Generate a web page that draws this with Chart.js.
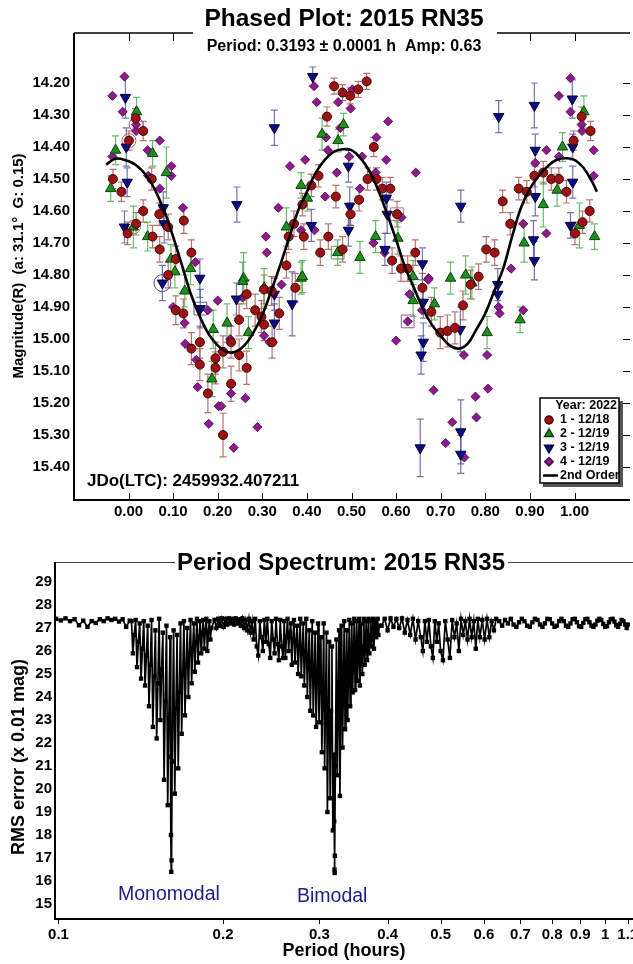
<!DOCTYPE html>
<html>
<head>
<meta charset="utf-8">
<script src="https://cdn.jsdelivr.net/npm/chart.js@4.4.1/dist/chart.umd.min.js"></script>
<style>
  html, body { margin: 0; padding: 0; background: #fff; overflow: hidden; width: 633px; height: 964px; }
  #phase { position: absolute; left: 0; top: 0; }
  #spec { position: absolute; left: 0; top: 530px; }
</style>
</head>
<body>
<canvas id="phase" width="640" height="530"></canvas>
<canvas id="spec" width="660" height="434"></canvas>
<script>
const FONT = "'Liberation Sans', Arial, sans-serif";

// ---- phased plot data ----
const phaseTicks = [0, 0.1, 0.2, 0.3, 0.4, 0.5, 0.6, 0.7, 0.8, 0.9, 1.0];
const magTicks = [14.2, 14.3, 14.4, 14.5, 14.6, 14.7, 14.8, 14.9, 15.0, 15.1, 15.2, 15.3, 15.4];

// 1 - 12/18
const s1Phase = [-0.035,-0.016,0.001,0.016,0.033,-0.002,0.017,0.033,0.052,0.054,0.070,0.089,0.106,0.089,0.124,0.141,0.069,0.354,0.359,0.393,0.371,0.410,0.390,
  0.461,0.480,0.497,0.515,0.534,0.445,0.426,0.465,0.517,0.498,0.448,0.430,0.480,0.550,0.536,0.556,0.569,0.587,0.602,0.591,0.611,0.626,0.643,
  0.802,0.821,0.839,0.856,0.875,0.893,0.910,0.930,0.948,0.965,0.982,0.998,1.016,1.036,1.034,1.018,1.001,0.785,
  0.106,0.123,0.141,0.160,0.160,0.178,0.195,0.195,0.212,0.212,0.230,0.230,0.248,0.248,0.265,0.265,0.284,0.304,0.304,0.298,0.322,0.338,0.374,0.321,
  0.659,0.679,0.699,0.715,0.732,0.750,0.767];
const s1Mag = [14.50,14.54,14.38,14.31,14.35,14.67,14.64,14.60,14.50,14.68,14.72,14.65,14.75,14.80,14.63,14.73,14.61,14.77,14.68,14.68,14.64,14.52,14.58,
  14.21,14.23,14.24,14.22,14.195,14.305,14.49,14.555,14.565,14.61,14.68,14.73,14.72,14.40,14.50,14.50,14.53,14.53,14.61,14.755,14.78,14.78,14.73,
  14.72,14.73,14.57,14.64,14.53,14.54,14.49,14.48,14.50,14.50,14.54,14.38,14.305,14.35,14.60,14.635,14.67,14.805,
  14.91,14.92,15.03,15.01,15.08,15.17,15.06,15.09,15.04,15.30,15.01,15.14,14.94,15.05,14.86,15.09,14.91,14.845,14.955,14.93,15.01,14.92,14.84,14.85,
  14.84,14.915,14.98,14.975,14.965,14.895,14.83];
const s1Err = [0.03,0.03,0.03,0.03,0.03,0.035,0.035,0.035,0.035,0.035,0.04,0.04,0.04,0.04,0.04,0.04,0.035,0.04,0.04,0.04,0.04,0.035,0.035,
  0.025,0.025,0.025,0.025,0.025,0.03,0.035,0.035,0.035,0.035,0.04,0.04,0.04,0.03,0.035,0.035,0.035,0.035,0.04,0.04,0.04,0.04,0.04,
  0.04,0.04,0.035,0.035,0.035,0.035,0.035,0.035,0.035,0.035,0.035,0.03,0.03,0.03,0.035,0.035,0.035,0.04,
  0.045,0.045,0.05,0.05,0.05,0.06,0.05,0.05,0.05,0.068,0.05,0.055,0.05,0.05,0.045,0.052,0.05,0.045,0.05,0.05,0.05,0.05,0.045,0.045,
  0.045,0.045,0.05,0.05,0.05,0.045,0.045];

// 2 - 12/19
const s2Phase = [-0.040,-0.029,0.018,0.011,0.043,0.054,0.085,0.095,0.104,0.139, 0.354,0.387,0.401,0.387,0.258,0.434,0.470,0.482,0.554,0.469,
  0.519,0.604,0.638,0.722,0.756,0.887,0.930,0.961,0.973,1.021, 1.011,1.045,0.126,0.187,0.190,0.221,0.256,0.269,0.304,0.390,
  0.638,0.686,0.770,0.804,0.878];
const s2Mag = [14.53,14.41,14.29,14.65,14.68,14.42,14.48,14.75,14.79,14.78, 14.65,14.52,14.56,14.81,14.81,14.36,14.38,14.33,14.68,14.73,
  14.745,14.685,14.805,14.81,14.80,14.70,14.58,14.535,14.40,14.29, 14.645,14.68,14.85,15.125,14.97,14.95,14.82,14.98,14.84,14.805,
  14.88,14.89,14.825,14.98,14.94];
const s2Err = [0.04,0.045,0.045,0.065,0.045,0.04,0.08,0.045,0.05,0.05, 0.06,0.04,0.04,0.05,0.08,0.05,0.035,0.035,0.05,0.04,
  0.05,0.05,0.05,0.05,0.06,0.06,0.07,0.05,0.045,0.05, 0.07,0.04,0.05,0.055,0.06,0.06,0.06,0.05,0.06,0.05,
  0.05,0.05,0.05,0.05,0.04];

// 3 - 12/19
const s3Phase = [-0.007,-0.005,-0.003,-0.009,0.078,0.080,0.160,0.243,0.327,0.413, 0.410,0.076,0.493,0.496,0.493,0.578,0.580,0.575,0.659,0.830,
  0.745,0.910,0.912,0.912,0.908,0.910,0.995,0.996,0.996,0.991, 0.161,0.242,0.327,0.327,0.367,0.661,0.661,0.656,0.654,0.744,
  0.745,0.745,0.828,0.828];
const s3Mag = [14.245,14.40,14.51,14.65,14.59,14.64,14.81,14.58,14.34,14.18, 14.645,14.825,14.46,14.585,14.66,14.56,14.61,14.72,14.765,14.305,
  14.585,14.27,14.41,14.555,14.69,14.755,14.25,14.40,14.51,14.645, 14.905,14.875,14.86,14.95,14.89,14.885,15.01,15.05,15.34,14.97,
  15.29,15.36,14.83,14.86];
const s3Err = [0.065,0.06,0.045,0.05,0.05,0.06,0.06,0.055,0.055,0.03, 0.05,0.055,0.05,0.06,0.05,0.05,0.06,0.05,0.05,0.05,
  0.05,0.07,0.05,0.06,0.06,0.06,0.06,0.04,0.05,0.04, 0.06,0.05,0.05,0.06,0.10,0.05,0.06,0.06,0.09,0.07,
  0.10,0.06,0.05,0.04];

// 4 - 12/19
const s4Phase = [-0.036,-0.009,-0.013,-0.036,0.017,0.017,0.043,0.044,0.070,0.070, 0.096,0.096,0.122,0.150,0.308,0.310,0.336,0.362,0.396,0.387,
  0.416,0.422,0.502,0.470,0.498,0.475,0.582,0.443,0.556,0.447, 0.524,0.495,0.578,0.467,0.554,0.644,0.441,0.519,0.417,0.549,
  0.574,0.612,0.673,0.858,0.885,0.912,0.937,0.937,0.965,0.965, 0.991,0.991,1.016,1.017,1.043,1.043,0.100,0.126,0.127,0.152,
  0.155,0.178,0.180,0.200,0.202,0.208,0.228,0.230,0.236,0.262, 0.256,0.304,0.289,0.316,0.343,0.630,0.626,0.600,0.672,0.658,
  0.684,0.752,0.804,0.806,0.778,0.780,0.726,0.711,0.753,0.830, 0.832,0.885];
const s4Mag = [14.24,14.18,14.29,14.43,14.35,14.33,14.41,14.49,14.38,14.53, 14.46,14.49,14.59,14.76,14.68,14.73,14.59,14.46,14.44,14.66,
  14.21,14.26,14.22,14.26,14.28,14.34,14.32,14.37,14.37,14.41, 14.43,14.43,14.44,14.48,14.48,14.48,14.555,14.53,14.66,14.70,
  14.73,14.62,14.81,14.78,14.64,14.45,14.67,14.41,14.24,14.43, 14.185,14.29,14.33,14.35,14.41,14.49,14.90,14.95,15.015,15.065,
  15.15,14.91,15.265,14.88,15.21,15.21,15.00,15.17,15.34,15.185, 14.87,14.99,15.275,15.01,14.83,14.86,14.945,15.005,14.815,14.91,
  15.16,15.05,15.05,15.155,15.18,15.245,15.26,15.325,15.37,14.90, 14.92,14.91];

// highlighted points (open circles / squares)
const circPhase = [0.001, 0.017, 0.011, 0.076];
const circMag = [14.38, 14.33, 14.65, 14.825];
const boxPhase = [0.161, 0.469, 0.602, 0.626];
const boxMag = [14.905, 14.73, 14.61, 14.945];

// 2nd order fit
const fitPhase = [-0.05,-0.03,-0.01,0.02,0.05,0.08,0.10,0.12,0.14,0.16,0.18,0.20,0.22,0.24,0.26,0.28,0.30,0.32,0.34,0.36,0.38,0.40,0.42,0.44,
  0.46,0.48,0.50,0.52,0.54,0.56,0.58,0.60,0.62,0.64,0.66,0.68,0.70,0.72,0.74,0.76,0.78,0.80,0.82,0.84,0.86,0.88,0.90,0.92,0.94,0.96,0.98,1.00,1.02,1.04,1.05];
const fitMag = [14.455,14.437,14.44,14.46,14.51,14.60,14.68,14.77,14.86,14.93,14.985,15.02,15.04,15.04,15.02,14.98,14.925,14.85,14.77,14.685,14.60,14.54,14.48,14.44,
  14.415,14.407,14.41,14.435,14.475,14.535,14.61,14.69,14.775,14.84,14.905,14.955,14.99,15.02,15.03,15.015,14.97,14.92,14.85,14.78,14.68,14.59,14.53,14.49,14.46,14.44,14.435,14.44,14.465,14.51,14.54];

// ---- period spectrum data ----
const specTicks = [0.1, 0.2, 0.3, 0.4, 0.5, 0.6, 0.7, 0.8, 0.9, 1, 1.1];
const rmsTicks = [15, 16, 17, 18, 19, 20, 21, 22, 23, 24, 25, 26, 27, 28, 29];

const specPeriod = [
  // flat start
  0.099,0.101,0.103,0.105,0.107,0.109,0.111,0.113,0.115,0.117,
  0.119,0.121,0.123,0.125,0.127,0.129,0.131,0.133,0.135,
  // monomodal dip
  0.1360,0.1368,0.1376,0.1384,0.1392,0.1400,0.1408,0.1416,0.1424,
  0.1432,0.1440,0.1448,0.1456,0.1464,0.1472,0.1480,0.1488,0.1496,
  0.1504,0.1512,0.1520,0.1528,0.1536,0.1544,0.1552,0.1560,0.1568,
  0.1576,0.1584,0.1592,0.1600,0.1604,0.1606,0.1608,0.1610,0.1614,
  0.1624,0.1632,0.1640,0.1648,0.1656,0.1664,0.1672,0.1680,0.1688,
  0.1696,0.1704,0.1712,0.1720,0.1728,0.1736,0.1744,0.1752,0.1760,
  0.1768,0.1776,0.1784,0.1792,0.1800,0.1808,0.1816,0.1824,0.1832,
  0.1840,0.1848,0.1856,0.1864,0.1872,0.1880,0.1888,0.1896,0.1904,
  // between dips
  0.1930,0.1945,0.1960,0.1975,0.1990,0.2005,0.2020,0.2035,0.2050,0.2065,
  0.2080,0.2095,0.2110,0.2125,0.2140,0.2155,0.2170,0.2185,0.2200,0.2215,
  0.2230,0.2245,0.2260,0.2275,0.2290,0.2305,0.2320,0.2335,0.2350,0.2365,
  0.2380,0.2395,0.2410,0.2425,0.2440,0.2455,0.2470,0.2485,0.2500,0.2515,
  0.2530,0.2545,0.2560,0.2575,
  // bimodal dip
  0.2588,0.2600,0.2612,0.2624,0.2636,0.2648,0.2660,0.2672,0.2684,
  0.2696,0.2708,0.2720,0.2732,0.2744,0.2756,0.2768,0.2780,0.2792,
  0.2804,0.2816,0.2828,0.2840,0.2852,0.2864,0.2876,0.2888,0.2900,
  0.2912,0.2924,0.2936,0.2948,0.2960,0.2972,0.2984,0.2996,0.3008,
  0.3020,0.3032,0.3044,0.3056,0.3068,0.3080,0.3092,0.3104,0.3116,
  0.3128,0.3140,0.3152,0.3164,0.3176,0.3188,
  0.3194,0.3198,0.3200,0.3203,0.3210,
  0.3224,0.3236,0.3248,0.3260,0.3272,0.3284,0.3296,0.3308,0.3320,
  0.3332,0.3344,0.3356,0.3368,0.3380,0.3392,0.3404,0.3416,0.3428,
  0.3440,0.3452,0.3464,0.3476,0.3488,0.3500,0.3512,0.3524,0.3536,
  0.3548,0.3560,0.3572,0.3584,0.3596,0.3608,0.3620,0.3632,0.3644,
  0.3656,0.3668,0.3680,0.3692,0.3704,0.3716,0.3728,0.3740,0.3752,
  0.3764,0.3776,0.3788,0.3800,0.3812,0.3824,0.3836,0.3848,0.3860,
  // shallow spikes
  0.3900,0.3950,0.4000,0.4050,0.4100,0.4150,0.4200,0.4250,0.4300,0.4350,
  0.4400,0.4450,0.4500,0.4550,0.4600,0.4640,0.4680,0.4720,0.4760,0.4800,
  0.4840,0.4880,0.4920,0.4960,0.5000,0.5050,0.5100,0.5150,0.5200,0.5250,
  0.5300,0.5350,0.5400,0.5450,0.5500,0.5550,0.5600,0.5650,0.5700,0.5750,
  0.5800,0.5850,0.5900,0.5960,0.6020,0.6080,0.6140,0.6200,0.6260,0.6320,
  // long periods
  0.640,0.648,0.656,0.664,0.672,0.680,0.688,0.696,0.704,0.712,
  0.720,0.728,0.736,0.744,0.752,0.760,0.768,0.776,0.784,0.792,
  0.800,0.808,0.816,0.824,0.832,0.840,0.848,0.856,0.864,0.872,
  0.880,0.888,0.896,0.904,0.912,0.920,0.928,0.936,0.944,0.952,
  0.960,0.968,0.976,0.984,0.992,1.000,1.008,1.016,1.024,1.032,
  1.040,1.048,1.056,1.064,1.072,1.080,1.088,1.095,1.100
];
const specRms = [
  27.40,27.33,27.42,27.30,27.38,27.12,27.32,27.05,27.30,27.22,
  27.38,27.30,27.42,27.35,27.40,27.28,27.38,27.05,27.32,

  27.30,25.90,26.70,27.35,25.30,26.40,27.20,24.80,26.10,
  27.30,24.50,25.80,27.10,23.60,25.40,27.35,22.70,24.90,
  26.90,22.20,24.60,27.40,23.00,25.20,26.80,20.40,23.80,
  27.10,19.30,23.10,26.60,21.40,18.00,16.40,16.90,21.20,
  26.90,19.80,23.50,26.70,20.90,24.20,27.20,22.40,25.00,
  27.30,23.20,25.40,27.00,24.00,25.90,27.35,24.60,26.10,
  27.20,25.10,26.40,27.40,25.50,26.60,27.30,25.90,26.80,
  27.35,26.10,26.90,27.40,26.00,26.80,27.30,26.50,27.00,

  27.35,27.00,27.40,27.10,27.42,27.05,27.40,27.15,27.42,27.20,
  27.40,27.15,27.42,27.20,27.38,27.10,27.42,27.00,27.35,26.90,
  27.40,26.80,27.30,26.50,27.40,26.20,25.80,27.30,26.60,26.00,
  27.35,26.40,27.40,26.30,25.70,27.30,26.50,25.90,27.40,26.30,
  25.60,27.35,26.20,25.70,

  27.30,25.70,26.60,27.40,26.00,26.80,27.20,25.40,26.50,
  27.35,25.50,26.40,27.10,25.00,26.20,27.40,24.90,26.00,
  27.20,24.50,25.80,27.40,24.00,25.60,26.90,23.40,25.30,
  27.30,23.20,25.00,26.80,22.70,24.80,27.20,22.90,24.90,
  26.60,21.60,24.20,27.20,20.90,23.80,26.80,19.00,23.00,
  26.40,19.60,23.40,26.20,18.20,21.50,
  18.60,16.50,16.35,17.10,21.00,
  26.50,20.60,23.90,26.90,19.70,23.60,27.10,21.80,24.40,
  27.30,22.60,24.80,26.90,23.00,25.10,27.35,23.60,25.40,
  27.20,24.20,25.80,27.40,24.30,25.90,27.30,24.70,26.10,
  27.40,24.50,26.00,27.20,25.00,26.20,27.40,25.40,26.40,
  27.30,25.60,26.50,27.40,25.90,26.70,27.30,26.20,26.80,
  27.40,26.10,26.90,27.35,26.60,27.00,27.40,26.70,27.10,

  27.10,27.40,26.90,27.42,27.05,27.40,27.00,27.42,26.80,27.35,
  26.70,27.40,26.50,27.30,26.60,26.00,27.30,26.40,27.35,26.20,
  25.70,27.30,26.40,27.20,26.00,25.60,27.30,26.50,25.70,27.35,
  26.60,27.20,26.00,27.40,26.70,27.30,26.50,27.40,26.60,27.30,
  26.10,27.40,26.60,27.35,26.50,27.40,26.60,27.30,26.90,27.40,

  27.30,27.10,27.35,27.20,27.40,27.15,27.05,27.25,27.40,27.30,
  27.10,27.05,27.25,27.40,27.35,27.15,27.05,27.20,27.40,27.38,
  27.20,27.05,27.10,27.30,27.40,27.30,27.10,27.05,27.20,27.38,
  27.40,27.25,27.08,27.05,27.22,27.38,27.40,27.25,27.10,27.05,
  27.15,27.32,27.40,27.35,27.18,27.05,27.08,27.25,27.38,27.40,
  27.28,27.12,27.05,27.18,27.35,27.30,27.15,27.00,27.15
];

function pts(xs, ys) { return xs.map((x, i) => ({ x: x, y: ys[i] })); }

Chart.defaults.font.family = FONT;
Chart.defaults.color = '#000';

// vertical error bars with caps, under the markers
const errorBars = {
  id: 'errorBars',
  beforeDatasetsDraw(chart) {
    const { ctx, scales: { x, y } } = chart;
    chart.data.datasets.forEach(ds => {
      if (!ds.errors) return;
      ctx.save();
      ctx.strokeStyle = ds.errorColor;
      ctx.lineWidth = 1.2;
      ds.data.forEach((p, j) => {
        const px = x.getPixelForValue(p.x);
        const y1 = y.getPixelForValue(p.y - ds.errors[j]);
        const y2 = y.getPixelForValue(p.y + ds.errors[j]);
        ctx.beginPath();
        ctx.moveTo(px, y1); ctx.lineTo(px, y2);
        ctx.moveTo(px - 3.5, y1); ctx.lineTo(px + 3.5, y1);
        ctx.moveTo(px - 3.5, y2); ctx.lineTo(px + 3.5, y2);
        ctx.stroke();
      });
      ctx.restore();
    });
  }
};

const phaseFrame = {
  id: 'phaseFrame',
  afterDraw(chart) {
    const { ctx, chartArea: a, scales: { x, y } } = chart;
    ctx.save();
    ctx.strokeStyle = '#000';
    ctx.lineWidth = 1;
    phaseTicks.forEach(v => {
      const px = Math.round(x.getPixelForValue(v)) + 0.5;
      ctx.beginPath();
      ctx.moveTo(px, a.top); ctx.lineTo(px, a.top + 8);
      ctx.moveTo(px, a.bottom); ctx.lineTo(px, a.bottom - 7);
      ctx.stroke();
    });
    magTicks.forEach(v => {
      const py = Math.round(y.getPixelForValue(v)) + 0.5;
      ctx.beginPath(); ctx.moveTo(a.right, py); ctx.lineTo(a.right - 7, py); ctx.stroke();
    });
    ctx.lineWidth = 1.5;
    ctx.beginPath(); ctx.moveTo(a.left, a.top); ctx.lineTo(a.right, a.top); ctx.stroke();
    ctx.lineWidth = 2;
    ctx.beginPath(); ctx.moveTo(a.left, a.top); ctx.lineTo(a.left, a.bottom); ctx.lineTo(a.right, a.bottom); ctx.stroke();

    // titles
    ctx.fillStyle = '#fff';
    ctx.fillRect(193, 0, 304, 42);
    ctx.fillStyle = '#000';
    ctx.textAlign = 'center';
    ctx.textBaseline = 'middle';
    ctx.font = 'bold 24.5px ' + FONT;
    ctx.fillText('Phased Plot: 2015 RN35', 344, 19);
    ctx.font = 'bold 16px ' + FONT;
    ctx.fillText('Period: 0.3193 \u00b1 0.0001 h  Amp: 0.63', 344, 47);

    ctx.save();
    ctx.translate(19, 266);
    ctx.rotate(-Math.PI / 2);
    ctx.font = 'bold 15px ' + FONT;
    ctx.fillText('Magnitude(R)  (a: 31.1\u00b0  G: 0.15)', 0, 0);
    ctx.restore();

    ctx.textAlign = 'left';
    ctx.font = 'bold 17px ' + FONT;
    ctx.fillText('JDo(LTC): 2459932.407211', 87, 481);

    // legend box
    ctx.fillStyle = '#555';
    ctx.fillRect(543, 401, 80, 86);
    ctx.fillStyle = '#fff';
    ctx.fillRect(540, 398, 79, 85);
    ctx.strokeStyle = '#000';
    ctx.lineWidth = 1.5;
    ctx.strokeRect(540, 398, 79, 85);
    ctx.fillStyle = '#000';
    ctx.font = 'bold 12.5px ' + FONT;
    ctx.textAlign = 'right';
    ctx.fillText('Year: 2022', 617, 406);
    ctx.textAlign = 'left';
    const items = [
      { t: '1 - 12/18', s: 'circle', r: 4, rot: 0, f: '#9b1414', b: '#4a0000' },
      { t: '2 - 12/19', s: 'triangle', r: 5, rot: 0, f: '#1f8f1f', b: '#0a400a' },
      { t: '3 - 12/19', s: 'triangle', r: 5, rot: 180, f: '#0c0c80', b: '#000040' },
      { t: '4 - 12/19', s: 'rectRot', r: 4.2, rot: 0, f: '#8c1c8c', b: '#4a004a' }
    ];
    items.forEach((it, i) => {
      const yy = 420 + i * 13.9;
      ctx.fillStyle = it.f; ctx.strokeStyle = it.b;
      Chart.helpers.drawPoint(ctx, { pointStyle: it.s, radius: it.r, rotation: it.rot, borderWidth: 1 }, 549, yy);
      ctx.fillStyle = '#000';
      ctx.fillText(it.t, 560, yy);
    });
    ctx.strokeStyle = '#000'; ctx.lineWidth = 2.5;
    ctx.beginPath(); ctx.moveTo(543, 475.5); ctx.lineTo(558, 475.5); ctx.stroke();
    ctx.fillText('2nd Order', 560, 475.5);
    ctx.restore();
  }
};

new Chart(document.getElementById('phase'), {
  type: 'scatter',
  data: {
    datasets: [
      { type: 'line', data: pts(fitPhase, fitMag), borderColor: '#000', borderWidth: 2.6, pointRadius: 0, tension: 0.4, fill: false },
      { data: pts(s1Phase, s1Mag), errors: s1Err, errorColor: 'rgba(165,80,80,0.8)',
        pointStyle: 'circle', pointRadius: 4.5, backgroundColor: '#9b1414', borderColor: '#4a0000', borderWidth: 1 },
      { data: pts(s2Phase, s2Mag), errors: s2Err, errorColor: 'rgba(70,170,70,0.8)',
        pointStyle: 'triangle', pointRadius: 6, backgroundColor: '#1f8f1f', borderColor: '#0a400a', borderWidth: 1 },
      { data: pts(s3Phase, s3Mag), errors: s3Err, errorColor: 'rgba(80,80,160,0.8)',
        pointStyle: 'triangle', pointRotation: 180, pointRadius: 6, backgroundColor: '#0c0c80', borderColor: '#000040', borderWidth: 1 },
      { data: pts(s4Phase, s4Mag),
        pointStyle: 'rectRot', pointRadius: 4.6, backgroundColor: '#8c1c8c', borderColor: '#4a004a', borderWidth: 0.8 },
      { data: pts(circPhase, circMag), pointStyle: 'circle', pointRadius: [7, 7, 7, 8.5], backgroundColor: 'rgba(0,0,0,0)',
        borderColor: ['#b06060', '#a060a0', '#60a060', '#4848a0'], borderWidth: 1 },
      { data: pts(boxPhase, boxMag), pointStyle: 'rect', pointRadius: 9, backgroundColor: 'rgba(0,0,0,0)',
        borderColor: ['#5858a8', '#48a048', '#b07878', '#a050a0'], borderWidth: 1 }
    ]
  },
  options: {
    responsive: false,
    animation: false,
    events: [],
    layout: { padding: { top: 33, right: 5, left: 0, bottom: 0 } },
    plugins: { legend: { display: false }, tooltip: { enabled: false } },
    scales: {
      x: {
        type: 'linear', min: -0.1222, max: 1.1244,
        afterBuildTicks: s => { s.ticks = phaseTicks.map(v => ({ value: v })); },
        afterFit: s => { s.height = 30; },
        grid: { display: false, drawTicks: false },
        border: { display: false },
        ticks: { autoSkip: false, maxRotation: 0, padding: 3, font: { size: 15, weight: 'bold' }, callback: v => v.toFixed(2) }
      },
      y: {
        type: 'linear', reverse: true, min: 14.0438, max: 15.503,
        afterBuildTicks: s => { s.ticks = magTicks.map(v => ({ value: v })); },
        afterFit: s => { s.width = 74; },
        grid: { display: false, drawTicks: false },
        border: { display: false },
        ticks: { autoSkip: false, padding: 4, font: { size: 15, weight: 'bold' }, callback: v => v.toFixed(2) }
      }
    }
  },
  plugins: [errorBars, phaseFrame]
});

const specFrame = {
  id: 'specFrame',
  afterDraw(chart) {
    const { ctx, chartArea: a, scales: { x } } = chart;
    ctx.save();
    ctx.strokeStyle = '#000';
    ctx.lineWidth = 1;
    specTicks.forEach(v => {
      const px = Math.round(x.getPixelForValue(v)) + 0.5;
      ctx.beginPath(); ctx.moveTo(px, a.bottom); ctx.lineTo(px, a.bottom + 5); ctx.stroke();
    });
    ctx.strokeStyle = '#444';
    ctx.beginPath(); ctx.moveTo(a.left, a.top + 0.5); ctx.lineTo(a.right, a.top + 0.5); ctx.stroke();
    ctx.strokeStyle = '#000';
    ctx.lineWidth = 2;
    ctx.beginPath(); ctx.moveTo(a.left, a.top); ctx.lineTo(a.left, a.bottom); ctx.lineTo(a.right, a.bottom); ctx.stroke();

    ctx.fillStyle = '#fff';
    ctx.fillRect(175, 16, 333, 32);
    ctx.fillStyle = '#000';
    ctx.textAlign = 'center';
    ctx.textBaseline = 'middle';
    ctx.font = 'bold 24px ' + FONT;
    ctx.fillText('Period Spectrum: 2015 RN35', 341, 33);

    ctx.font = 'bold 18px ' + FONT;
    ctx.fillText('Period (hours)', 344, 421);
    ctx.save();
    ctx.translate(19, 227);
    ctx.rotate(-Math.PI / 2);
    ctx.fillText('RMS error (x 0.01 mag)', 0, 0);
    ctx.restore();

    ctx.fillStyle = '#1c1c8c';
    ctx.textAlign = 'left';
    ctx.font = '19.5px ' + FONT;
    ctx.fillText('Monomodal', 118, 365);
    ctx.fillText('Bimodal', 297, 367);
    ctx.restore();
  }
};

new Chart(document.getElementById('spec'), {
  type: 'line',
  data: {
    datasets: [{
      data: pts(specPeriod, specRms),
      borderColor: '#000', borderWidth: 1.7, tension: 0,
      pointStyle: 'rect', pointRadius: 3.1, pointBackgroundColor: '#000', pointBorderWidth: 0
    }]
  },
  options: {
    responsive: false,
    animation: false,
    events: [],
    layout: { padding: { top: 32, right: 10, left: 0, bottom: 0 } },
    plugins: { legend: { display: false }, tooltip: { enabled: false } },
    scales: {
      x: {
        type: 'logarithmic', min: 0.09854, max: 1.208,
        afterBuildTicks: s => { s.ticks = specTicks.map(v => ({ value: v })); },
        afterFit: s => { s.height = 45; },
        grid: { display: false, drawTicks: false },
        border: { display: false },
        ticks: { autoSkip: false, maxRotation: 0, padding: 7, font: { size: 15, weight: 'bold' }, callback: v => String(v) }
      },
      y: {
        type: 'linear', min: 14.35, max: 29.87,
        afterBuildTicks: s => { s.ticks = rmsTicks.map(v => ({ value: v })); },
        afterFit: s => { s.width = 55; },
        grid: { display: false, drawTicks: false },
        border: { display: false },
        ticks: { autoSkip: false, padding: 3, font: { size: 15, weight: 'bold' }, callback: v => String(v) }
      }
    }
  },
  plugins: [specFrame]
});
</script>
</body>
</html>
